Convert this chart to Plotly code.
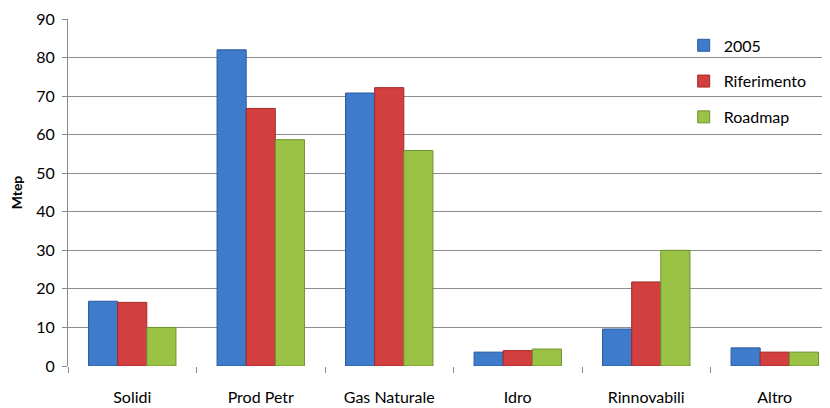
import plotly.graph_objects as go

categories = ["Solidi", "Prod Petr", "Gas Naturale", "Idro", "Rinnovabili", "Altro"]
series_names = ["2005", "Riferimento", "Roadmap"]
v2005 = [16.8, 82.0, 70.8, 3.6, 9.6, 4.7]
vrif = [16.5, 66.8, 72.2, 4.0, 21.8, 3.6]
vroad = [10.0, 58.7, 55.9, 4.4, 30.0, 3.6]
y_ticks = [0, 10, 20, 30, 40, 50, 60, 70, 80, 90]

colors = ["#3F7BCB", "#D33E3E", "#9AC244"]
lines = ["#2A5A9E", "#A02A2A", "#6E9130"]

fig = go.Figure()
for i, (name, vals) in enumerate(zip(series_names, [v2005, vrif, vroad])):
    fig.add_trace(go.Bar(
        x=categories, y=vals, name=name, legendgroup=name,
        marker=dict(color=colors[i], line=dict(color=lines[i], width=1)),
    ))

font = "Lato, 'Noto Sans', sans-serif"
# page body has an 8px margin, so the figure is sized to fit the 830x408 window
fig.update_layout(
    width=822, height=400,
    margin=dict(l=60, r=0, t=11, b=42),
    paper_bgcolor="white", plot_bgcolor="white",
    barmode="group", bargap=0.32, bargroupgap=0,
    font=dict(family=font, size=16, color="#000000"),
    showlegend=True,
    legend=dict(x=0.808, y=0.973, xanchor="left", yanchor="top",
                bgcolor="rgba(0,0,0,0)", tracegroupgap=12,
                font=dict(size=16), itemwidth=30),
    xaxis=dict(range=[-0.5, 5.43], showgrid=False, showline=False,
               ticks="outside", ticklen=6, tickcolor="#888888", tickson="boundaries",
               ticklabelstandoff=20, tickfont=dict(size=16)),
    yaxis=dict(range=[0, 90], tickvals=y_ticks, showgrid=True, gridcolor="#8C8C8C",
               gridwidth=1, showline=True, linecolor="#8C8C8C", linewidth=1,
               ticks="outside", ticklen=5, tickcolor="#8C8C8C", zeroline=False,
               ticklabelstandoff=4, tickfont=dict(size=16),
               title=dict(text="<b>Mtep</b>", font=dict(size=14), standoff=14)),
)

fig.write_html("out.html")
